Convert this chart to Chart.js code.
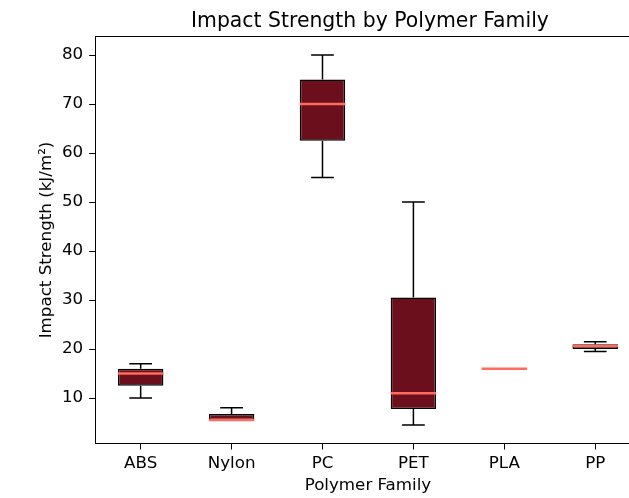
<!DOCTYPE html>
<html>
<head>
<meta charset="utf-8">
<script src="https://cdn.jsdelivr.net/npm/chart.js@4.4.0/dist/chart.umd.min.js"></script>
<style>
html, body { margin: 0; padding: 0; overflow: hidden; background: #fff; }
#wrap { width: 646px; height: 498px; }
</style>
</head>
<body>
<div id="wrap"><canvas id="boxChart" width="646" height="498"></canvas></div>
<script>
// Box plot summary per polymer family (kJ/m²)
const families = ['ABS', 'Nylon', 'PC', 'PET', 'PLA', 'PP'];
const whiskerLow = [10, 5.5, 55, 4.5, 16, 19.5];
const q1 = [12.5, 5.5, 62.5, 7.75, 16, 20];
const medians = [15, 5.5, 70, 11, 16, 20.6];
const q3 = [16, 6.75, 75, 30.5, 16, 21];
const whiskerHigh = [17, 8, 80, 50, 16, 21.5];
const yTicks = [10, 20, 30, 40, 50, 60, 70, 80];

const FONT = '"DejaVu Sans", sans-serif';
const boxFill = '#6b0f1c';
const medianColor = '#ff6b5e';
const inkColor = '#000000';

// Whiskers, caps, medians, top spine and title
const boxPlotExtras = {
    id: 'boxPlotExtras',
    afterDatasetsDraw(chart) {
        const ctx = chart.ctx;
        const x = chart.scales.x;
        const y = chart.scales.y;
        const step = x.getPixelForValue(1) - x.getPixelForValue(0);
        const boxHalf = step * 0.25;
        const capHalf = step * 0.125;
        ctx.save();
        ctx.lineCap = 'butt';
        families.forEach((name, i) => {
            const cx = x.getPixelForValue(i);
            // whiskers
            ctx.strokeStyle = inkColor;
            ctx.lineWidth = 1.5;
            ctx.beginPath();
            ctx.moveTo(cx, y.getPixelForValue(q3[i]));
            ctx.lineTo(cx, y.getPixelForValue(whiskerHigh[i]));
            ctx.moveTo(cx, y.getPixelForValue(q1[i]));
            ctx.lineTo(cx, y.getPixelForValue(whiskerLow[i]));
            // caps
            const hi = y.getPixelForValue(whiskerHigh[i]);
            const lo = y.getPixelForValue(whiskerLow[i]);
            ctx.moveTo(cx - capHalf, hi);
            ctx.lineTo(cx + capHalf, hi);
            ctx.moveTo(cx - capHalf, lo);
            ctx.lineTo(cx + capHalf, lo);
            ctx.stroke();
            // median
            const my = y.getPixelForValue(medians[i]);
            ctx.strokeStyle = medianColor;
            ctx.lineWidth = 2.5;
            ctx.beginPath();
            ctx.moveTo(cx - boxHalf, my);
            ctx.lineTo(cx + boxHalf, my);
            ctx.stroke();
        });
        // top spine
        const area = chart.chartArea;
        ctx.strokeStyle = inkColor;
        ctx.lineWidth = 1;
        ctx.beginPath();
        ctx.moveTo(area.left, area.top);
        ctx.lineTo(area.right, area.top);
        ctx.stroke();
        // title centred over the axes
        ctx.fillStyle = '#000';
        ctx.font = '20.4px ' + FONT;
        ctx.textAlign = 'center';
        ctx.textBaseline = 'alphabetic';
        ctx.fillText('Impact Strength by Polymer Family', (area.left + area.right) / 2 + 2, 27);
        ctx.restore();
    }
};

new Chart(document.getElementById('boxChart').getContext('2d'), {
    type: 'bar',
    data: {
        labels: families,
        datasets: [{
            label: 'Impact Strength',
            data: families.map((f, i) => [q1[i], q3[i]]),
            backgroundColor: boxFill,
            borderColor: inkColor,
            borderWidth: 1.5,
            borderSkipped: false,
            barPercentage: 0.5,
            categoryPercentage: 1
        }]
    },
    options: {
        responsive: false,
        animation: false,
        devicePixelRatio: 1,
        layout: { padding: { top: 36.5, right: 5.3, left: 0, bottom: 0 } },
        plugins: {
            legend: { display: false },
            tooltip: { enabled: false },
            title: { display: false }
        },
        scales: {
            x: {
                type: 'category',
                offset: true,
                grid: { display: true, drawOnChartArea: false, drawTicks: true, tickLength: 6, color: inkColor, offset: false },
                border: { display: true, color: inkColor, width: 1 },
                ticks: { color: '#000', font: { family: FONT, size: 16.7 }, padding: 4, maxRotation: 0 },
                title: { display: true, text: 'Polymer Family', color: '#000', font: { family: FONT, size: 16.7 }, padding: { top: 2, bottom: 2 } },
                afterFit: s => { s.height = 54.5; }
            },
            y: {
                type: 'linear',
                min: 0.725,
                max: 83.775,
                grid: { display: true, drawOnChartArea: false, drawTicks: true, tickLength: 6, color: inkColor },
                border: { display: true, color: inkColor, width: 1 },
                ticks: { color: '#000', font: { family: FONT, size: 16.7 }, padding: 6 },
                afterBuildTicks: s => { s.ticks = yTicks.map(v => ({ value: v })); },
                title: { display: true, text: 'Impact Strength (kJ/m²)', color: '#000', font: { family: FONT, size: 16.7 }, padding: { top: 37, bottom: 0 } },
                afterFit: s => { s.width = 95.2; }
            }
        }
    },
    plugins: [boxPlotExtras]
});
</script>
</body>
</html>
